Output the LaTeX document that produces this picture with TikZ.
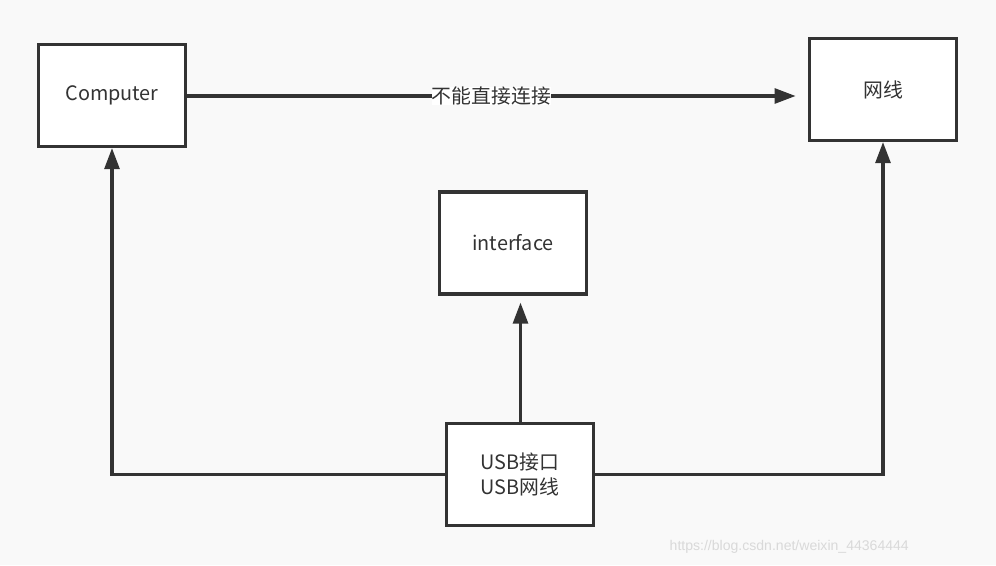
\documentclass[tikz,border=0pt]{standalone}
\usepackage{fontspec}
\setmainfont{Noto Sans CJK SC}
\newfontfamily\markfont{Liberation Sans}
\usetikzlibrary{arrows.meta}
\definecolor{ink}{HTML}{333333}
\definecolor{paper}{HTML}{F9F9F9}
\tikzset{
	box/.style={draw=ink, line width=1.8pt, fill=white, minimum width=2.94cm, minimum height=2.04cm, text=ink, font=\fontsize{11.3}{14}\selectfont, align=center},
	link/.style={draw=ink, line width=1.8pt, -{Triangle[length=12pt,width=8.5pt]}}
}
\begin{document}
\begin{tikzpicture}[x=0.02cm, y=-0.02cm]
			\fill[paper] (0,0) rectangle (996,565);
			\useasboundingbox (0,0) rectangle (996,565);
			\node[box] (pc) at (112,95.5) {Computer};
			\node[box] (net) at (883,89.5) {网线};
			\node[box] (itf) at (513,243) {interface};
			\node[box] (usb) at (520,474.5) {USB接口\\USB网线};
			\draw[link, shorten >=7pt] (pc.east |- 0,96) -- (net.west |- 0,96)
				node[pos=0.49, fill=white, inner sep=0pt, text=ink, font=\fontsize{11.3}{14}\selectfont] (msg) {不能直接连接};
			\draw[link, shorten >=4pt] (usb.north -| 520.5,0) -- (itf.south -| 520.5,0);
			\draw[link] (usb.west) -| (pc.south);
			\draw[link] (usb.east) -| (net.south);
			\node[anchor=east, text=black!15, font=\fontsize{8}{10}\markfont] (mark) at (915,547) {https://blog.csdn.net/weixin\_44364444};
		\end{tikzpicture}
\end{document}
